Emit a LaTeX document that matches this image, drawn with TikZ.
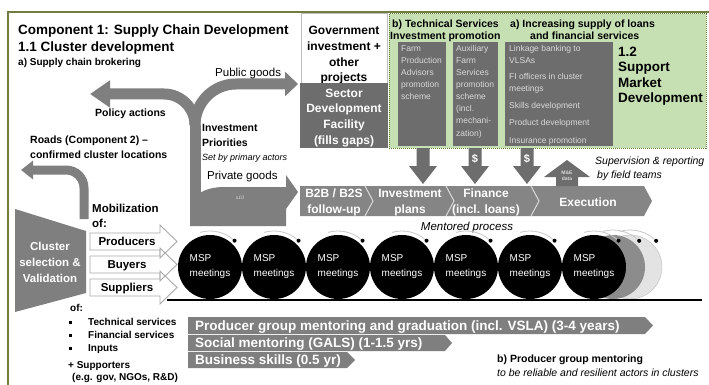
\documentclass[tikz,border=0pt]{standalone}
\usepackage{fontspec}
\setmainfont{Liberation Sans}
\usetikzlibrary{arrows.meta}

\definecolor{boxgray}{HTML}{6D6D6D}
\definecolor{arrgray}{HTML}{7F7F7F}
\definecolor{bandgray}{HTML}{858585}
\definecolor{greenfill}{HTML}{C6E0B4}
\definecolor{greenedge}{HTML}{5E7F3A}
\definecolor{framegreen}{HTML}{707E3E}
\definecolor{paletext}{HTML}{D9D9D9}
\definecolor{arcgray}{HTML}{C8C8C8}
\definecolor{midgray}{HTML}{8C8C8C}
\definecolor{lightfill}{HTML}{E3E3E3}
\definecolor{lightedge}{HTML}{BDBDBD}
\definecolor{outlinegray}{HTML}{A8A8A8}

\tikzset{
  txt/.style={inner sep=0, anchor=base west},
  ctxt/.style={inner sep=0, anchor=base},
  ttl/.style={txt, font=\bfseries\fontsize{13.5}{16}\selectfont},
  lb/.style={txt, font=\bfseries\fontsize{10.5}{12}\selectfont},
  lbs/.style={txt, font=\bfseries\fontsize{10}{12}\selectfont},
  lbi/.style={txt, font=\itshape\fontsize{10.5}{12}\selectfont},
  medb/.style={inner sep=0, font=\bfseries\fontsize{11.5}{13}\selectfont},
  medr/.style={txt, font=\fontsize{11.5}{13}\selectfont},
  boxtxt/.style={txt, font=\fontsize{8.5}{10}\selectfont, text=paletext},
  chev/.style={ctxt, font=\bfseries\fontsize{12}{14}\selectfont, text=white},
  bartxt/.style={txt, font=\bfseries\fontsize{13.5}{16}\selectfont, text=white},
  facility/.style={ctxt, font=\bfseries\fontsize{12}{14}\selectfont},
  msp/.style={circle, fill=black, minimum size=64pt, inner sep=0, text=white,
    align=left, font=\fontsize{10}{15}\selectfont},
  warrow/.style={draw=outlinegray, line width=0.9pt},
  bigshaft/.style={draw=arrgray, line cap=butt},
}

\begin{document}
\begin{tikzpicture}[x=1pt,y=1pt]
\useasboundingbox (0,0) rectangle (709,-385);
\fill[white] (0,0) rectangle (709,-385);

% outer frame of the component
\draw[framegreen, line width=1.6pt] (8,-385) -- (8,-12) -- (709,-12);

% ---------- titles ----------
\node[ttl] (title) at (18,-34.8) {Component 1: Supply Chain Development};
\node[ttl] (sub) at (18,-51.8) {1.1 Cluster development};
\node[lbs] (subA) at (18,-65.6) {a) Supply chain brokering};

% ---------- support market development area ----------
\draw[greenedge, densely dotted, line width=1pt, fill=greenfill] (389,-14) rectangle (706,-148);
\node[lb] (hdB1) at (392,-27.8) {b) Technical Services};
\node[lb] (hdB2) at (390,-39.8) {Investment promotion};
\node[lb] (hdA1) at (510,-27.8) {a) Increasing supply of loans};
\node[lb] (hdA2) at (530,-39.8) {and financial services};
\node[ttl] (sm1) at (618,-56.8) {1.2};
\node[ttl] (sm2) at (618,-71.8) {Support};
\node[ttl] (sm3) at (618,-87.8) {Market};
\node[ttl] (sm4) at (618,-102.8) {Development};

\fill[boxgray] (398,-42) rectangle (446,-146);
\fill[boxgray] (453,-42) rectangle (498,-146);
\fill[boxgray] (505,-42) rectangle (613,-146);

\node[boxtxt] (fa1) at (401,-52) {Farm};
\node[boxtxt] (fa2) at (401,-64) {Production};
\node[boxtxt] (fa3) at (401,-76) {Advisors};
\node[boxtxt] (fa4) at (401,-88) {promotion};
\node[boxtxt] (fa5) at (401,-100) {scheme};

\node[boxtxt] (au1) at (456,-52) {Auxiliary};
\node[boxtxt] (au2) at (456,-64) {Farm};
\node[boxtxt] (au3) at (456,-76) {Services};
\node[boxtxt] (au4) at (456,-88) {promotion};
\node[boxtxt] (au5) at (456,-100) {scheme};
\node[boxtxt] (au6) at (456,-112) {(incl.};
\node[boxtxt] (au7) at (456,-124) {mechani-};
\node[boxtxt] (au8) at (456,-136) {zation)};

\node[boxtxt] (li1) at (509,-52) {Linkage banking to};
\node[boxtxt] (li2) at (509,-64) {VLSAs};
\node[boxtxt] (li3) at (509,-80) {FI officers in cluster};
\node[boxtxt] (li4) at (509,-92) {meetings};
\node[boxtxt] (li5) at (509,-109) {Skills development};
\node[boxtxt] (li6) at (509,-126) {Product development};
\node[boxtxt] (li7) at (509,-143) {Insurance promotion};

% ---------- government / facility ----------
\draw[lightedge, fill=white, line width=0.8pt] (301,-13) rectangle (387,-83);
\node[facility] (gv1) at (344,-34.3) {Government};
\node[facility] (gv2) at (344,-50.3) {investment +};
\node[facility] (gv3) at (344,-66.3) {other};
\node[facility] (gv4) at (344,-81.3) {projects};
\fill[boxgray] (300,-83) rectangle (388,-148);
\node[facility, text=white] (sd1) at (344,-97.3) {Sector};
\node[facility, text=white] (sd2) at (344,-112.3) {Development};
\node[facility, text=white] (sd3) at (344,-128.3) {Facility};
\node[facility, text=white] (sd4) at (344,-144.3) {(fills gaps)};

% ---------- public / private goods split ----------
\coordinate (fork) at (195,-125);
\coordinate (pubTip) at (298,-84);
\coordinate (polTip) at (90,-94);
\fill[arrgray] (190,-226) -- (190,-210) .. controls (190,-196) and (204,-187) .. (224,-187)
  -- (286,-187) -- (286,-175) -- (298,-192) -- (286,-209) -- (286,-226) -- cycle;
\draw[bigshaft, line width=11pt] (195,-215) -- (fork);
\draw[bigshaft, line width=11pt, -{Triangle[width=24pt,length=13pt]}]
  (fork) .. controls (195,-102.4) and (213.4,-84) .. (236,-84) -- (pubTip);
\draw[bigshaft, line width=11pt, -{Triangle[width=26pt,length=20pt]}]
  (fork) .. controls (195,-107.9) and (180.9,-94) .. (164,-94) -- (polTip);
\node[font=\itshape\fontsize{5}{6}\selectfont, text=paletext, inner sep=0] (x10) at (240,-198) {x10};

\node[medr] (pub) at (215,-76.1) {Public goods};
\node[lb] (pol) at (95,-116.8) {Policy actions};
\node[lb] (ip1) at (202,-131.8) {Investment};
\node[lb] (ip2) at (202,-146.8) {Priorities};
\node[txt, font=\itshape\fontsize{9}{11}\selectfont] (ip3) at (202,-160.2) {Set by primary actors};
\node[medr] (priv) at (207,-179.1) {Private goods};

% ---------- roads ----------
\coordinate (roadBase) at (84,-219);
\coordinate (roadTip) at (21,-170);
\draw[bigshaft, line width=9pt, -{Triangle[width=18pt,length=12pt]}]
  (roadBase) -- (84,-188) .. controls (84,-178) and (76,-170) .. (66,-170) -- (roadTip);
\node[lb] (rd1) at (30,-143.8) {Roads (Component 2) –};
\node[lb] (rd2) at (30,-158.8) {confirmed cluster locations};

% ---------- cluster selection ----------
\fill[arrgray] (15,-209) -- (86,-231) -- (86,-293) -- (15,-312) -- cycle;
\node[medb, anchor=base, text=white] (cl1) at (50,-250.1) {Cluster};
\node[medb, anchor=base, text=white] (cl2) at (50,-266.1) {selection \&};
\node[medb, anchor=base, text=white] (cl3) at (50,-282.1) {Validation};

\node[medb, anchor=base west] (mob1) at (92,-212.1) {Mobilization};
\node[medb, anchor=base west] (mob2) at (92,-227.1) {of:};

\draw[warrow] (90,-279) -- (160,-279) -- (160,-271) -- (177,-287.5) -- (160,-304) -- (160,-296) -- (90,-296) -- cycle;
\draw[warrow] (90,-256) -- (160,-256) -- (160,-248) -- (177,-264.5) -- (160,-281) -- (160,-273) -- (90,-273) -- cycle;
\draw[warrow] (90,-233) -- (160,-233) -- (160,-225) -- (177,-241.5) -- (160,-258) -- (160,-250) -- (90,-250) -- cycle;
\node[medb, anchor=base] (prod) at (127,-245.6) {Producers};
\node[medb, anchor=base] (buy) at (127,-268.6) {Buyers};
\node[medb, anchor=base] (supl) at (127,-291.6) {Suppliers};

\node[lbs] (of2) at (70,-311.6) {of:};
\fill (69,-320.5) rectangle (72,-323.5);
\fill (69,-333.5) rectangle (72,-336.5);
\fill (69,-346.5) rectangle (72,-349.5);
\node[lbs] (ts) at (88,-325.6) {Technical services};
\node[lbs] (fs) at (88,-338.6) {Financial services};
\node[lbs] (inp) at (88,-351.6) {Inputs};
\node[lbs] (spp) at (68,-368.6) {+ Supporters};
\node[lbs] (eg) at (72,-380.6) {(e.g. gov, NGOs, R\&D)};

% ---------- mentored process band ----------
\fill[bandgray] (300,-186) -- (644,-186) -- (652,-201) -- (644,-216) -- (300,-216) -- cycle;
\foreach \s in {365,446,531}
  \draw[paletext, line width=1pt] (\s,-186) -- (\s+8,-201) -- (\s,-216);
\node[chev] (b2b1) at (334,-197.3) {B2B / B2S};
\node[chev] (b2b2) at (334,-213.3) {follow-up};
\node[chev] (inv1) at (410,-197.3) {Investment};
\node[chev] (inv2) at (410,-213.3) {plans};
\node[chev] (fin1) at (486,-197.3) {Finance};
\node[chev] (fin2) at (486,-213.3) {(incl. loans)};
\node[chev] (exe) at (588,-206.3) {Execution};
\node[ctxt, font=\itshape\fontsize{11.5}{13}\selectfont] (mp) at (467,-230.1) {Mentored process};

% ---------- flows from the support area ----------
\foreach \c in {423,475,527}
  \fill[boxgray] (\c-6.5,-148) -- (\c+6.5,-148) -- (\c+6.5,-166) -- (\c+14,-166)
    -- (\c,-184) -- (\c-14,-166) -- (\c-6.5,-166) -- cycle;
\node[font=\bfseries\fontsize{11}{13}\selectfont, text=white, inner sep=0] (d1) at (475,-159) {\$};
\node[font=\bfseries\fontsize{11}{13}\selectfont, text=white, inner sep=0] (d2) at (527,-159) {\$};

\fill[boxgray] (567,-160) -- (590,-177) -- (578,-177) -- (578,-186) -- (556,-186)
  -- (556,-177) -- (544,-177) -- cycle;
\node[font=\bfseries\fontsize{5}{6}\selectfont, text=paletext, align=center, inner sep=0] (me) at (567,-176) {M\&E\\data};
\node[lbi] (sv1) at (595,-164.8) {Supervision \& reporting};
\node[lbi] (sv2) at (597,-178.8) {by field teams};

% ---------- multi-stakeholder meetings ----------
\draw[lightedge, fill=lightfill] (630,-267) circle[radius=32];
\fill[midgray] (613,-267) circle[radius=32];
\foreach \cx in {613,630} {
  \draw[arcgray, line width=0.8pt] (\cx,-267) ++(106:37) arc[start angle=106, end angle=45, radius=37];
  \fill (\cx,-267) ++(45:37) circle[radius=2];
}
\foreach \i in {0,...,6} {
  \node[msp] (msp\i) at ({210+64*\i},-267) {MSP\\meetings};
  \draw[arcgray, line width=0.8pt] (msp\i.center) ++(106:36) arc[start angle=106, end angle=47, radius=36];
  \fill (msp\i.center) ++(47:36) circle[radius=2];
}
\draw[black, line width=2.5pt] (167,-300) -- (702,-300);

% ---------- producer group mentoring ----------
\fill[arrgray] (188,-317) -- (645,-317) -- (653,-325.5) -- (645,-334) -- (188,-334) -- cycle;
\fill[arrgray] (188,-335) -- (445,-335) -- (452,-343) -- (445,-351) -- (188,-351) -- cycle;
\fill[arrgray] (188,-352) -- (347,-352) -- (355,-360) -- (347,-368) -- (188,-368) -- cycle;
\node[bartxt] (bar1) at (195,-330.3) {Producer group mentoring and graduation (incl. VSLA) (3-4 years)};
\node[bartxt] (bar2) at (195,-347.8) {Social mentoring (GALS) (1-1.5 yrs)};
\node[bartxt] (bar3) at (195,-364.8) {Business skills (0.5 yr)};
\node[lb] (pg1) at (497,-362.8) {b) Producer group mentoring};
\node[lbi] (pg2) at (497,-376.8) {to be reliable and resilient actors in clusters};

\end{tikzpicture}
\end{document}
